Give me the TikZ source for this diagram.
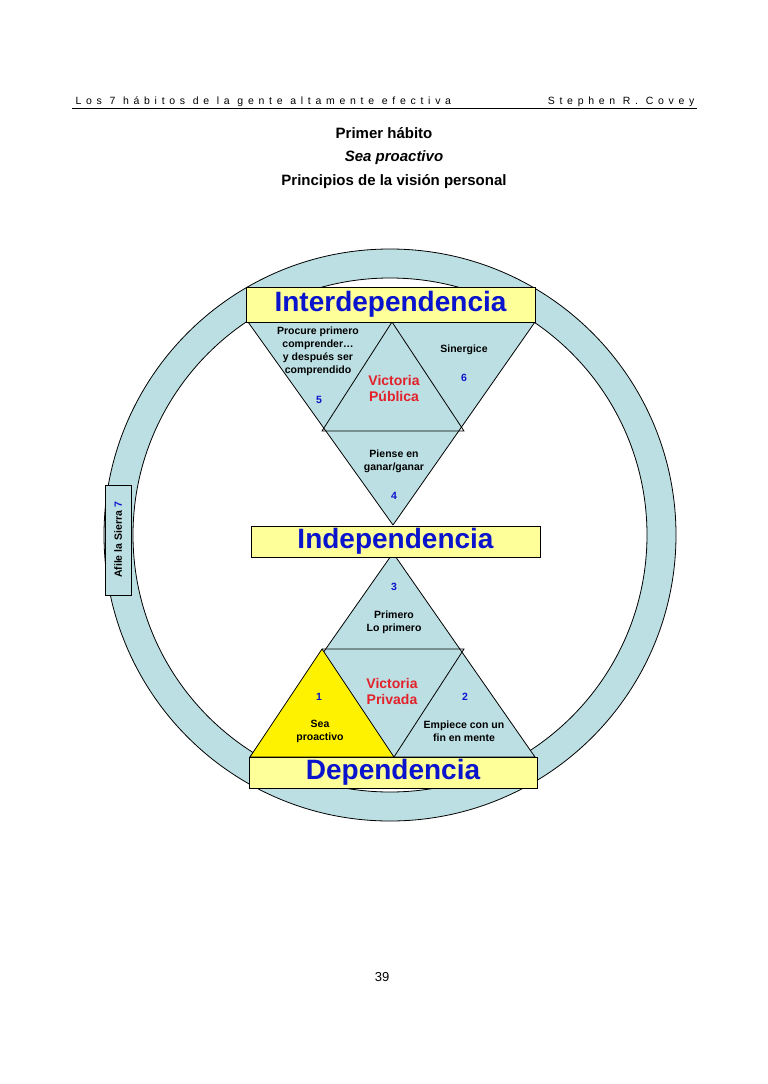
\documentclass[tikz,border=0pt]{standalone}
\usepackage{fontspec}
\setmainfont{Liberation Sans}
\definecolor{celeste}{HTML}{BCDFE3}
\definecolor{crema}{HTML}{FFFF99}
\definecolor{azul}{HTML}{0A14CC}
\definecolor{rojo}{HTML}{E3212B}
\tikzset{
  caja/.style={draw, fill=crema, line width=0.8pt},
  tri/.style={draw, fill=celeste, line width=0.8pt, line join=round},
  titulo/.style={font=\fontsize{28}{30}\selectfont\bfseries, text=azul},
  paso/.style={font=\fontsize{10.5}{13}\selectfont\bfseries, align=center},
  num/.style={font=\fontsize{10.5}{12}\selectfont\bfseries, text=azul},
  victoria/.style={font=\fontsize{14}{16}\selectfont\bfseries, text=rojo, align=center}
}
\begin{document}
\begin{tikzpicture}[x=1pt,y=-1pt]
        \useasboundingbox[fill=white] (0,0) rectangle (768,1084);

        % encabezado
        \node[anchor=base west, font=\fontsize{10.5}{12}\selectfont\addfontfeature{LetterSpace=45}] (libro) at (72,104) {Los 7 hábitos de la gente altamente efectiva};
        \node[anchor=base east, font=\fontsize{10.5}{12}\selectfont\addfontfeature{LetterSpace=45}] (autor) at (698,104) {Stephen R. Covey};
        \draw[line width=0.6pt] (72,108) -- (697,108);
        \node[font=\fontsize{15}{17}\selectfont\bfseries] (habito) at (384,133) {Primer hábito};
        \node[font=\fontsize{15}{17}\selectfont\bfseries\itshape] (lema) at (394,158) {Sea proactivo};
        \node[font=\fontsize{15}{17}\selectfont\bfseries] (principios) at (394,182) {Principios de la visión personal};

        % anillo
        \fill[celeste, even odd rule, draw=black, line width=0.8pt] (390,535) circle (286) (390,535) circle (257);

        % triangulo superior
        \coordinate (s1) at (248,322);
        \coordinate (s2) at (535,322);
        \coordinate (s3) at (393,525);
        \coordinate (sm) at (392,322);
        \coordinate (sl) at (322,431);
        \coordinate (sr) at (464,431);
        \draw[tri] (s1) -- (s2) -- (s3) -- cycle;
        \draw[line width=0.8pt] (sm) -- (sl) -- (sr) -- cycle;

        % triangulo inferior
        \coordinate (i1) at (250,757);
        \coordinate (i2) at (535,757);
        \coordinate (i3) at (393,553);
        \coordinate (im) at (394,757);
        \coordinate (il) at (322,649);
        \coordinate (ir) at (464,649);
        \draw[tri] (i1) -- (i2) -- (i3) -- cycle;
        \draw[tri, fill=yellow] (il) -- (i1) -- (im) -- cycle;
        \draw[line width=0.8pt] (il) -- (ir) -- (im);

        % cajas
        \node[caja, minimum width=289, minimum height=35, inner sep=0pt, titulo] (inter) at (390.5,304.5) {Interdependencia};
        \node[caja, minimum width=289, minimum height=31, inner sep=0pt, titulo] (inde) at (395.5,541.5) {Independencia};
        \node[caja, minimum width=288, minimum height=31, inner sep=0pt, titulo] (depe) at (393,772.5) {Dependencia};
        \node[draw, fill=celeste, line width=0.8pt, minimum width=110, minimum height=26, inner sep=0pt, rotate=90,
              font=\fontsize{10.5}{12}\selectfont\bfseries] (sierra) at (118,540) {Afile la Sierra \textcolor{azul}{7}};

        % textos superiores
        \node[paso] (h5) at (318,351) {Procure primero\\comprender\ldots\\y después ser\\comprendido};
        \node[num] (n5) at (319,400) {5};
        \node[paso] (h6) at (464,350) {Sinergice};
        \node[num] (n6) at (464,378) {6};
        \node[victoria] (pub) at (394,388) {Victoria\\Pública};
        \node[paso] (h4) at (394,461) {Piense en\\ganar/ganar};
        \node[num] (n4) at (394,496) {4};

        % textos inferiores
        \node[num] (n3) at (394,587) {3};
        \node[paso] (h3) at (394,622) {Primero\\Lo primero};
        \node[victoria] (pri) at (392,691) {Victoria\\Privada};
        \node[num] (n1) at (319,697) {1};
        \node[paso] (h1) at (320,731) {Sea\\proactivo};
        \node[num] (n2) at (465,697) {2};
        \node[paso] (h2) at (464,731) {Empiece con un\\fin en mente};

        \node[font=\fontsize{13}{15}\selectfont] (pagina) at (382,977) {39};
\end{tikzpicture}
\end{document}
